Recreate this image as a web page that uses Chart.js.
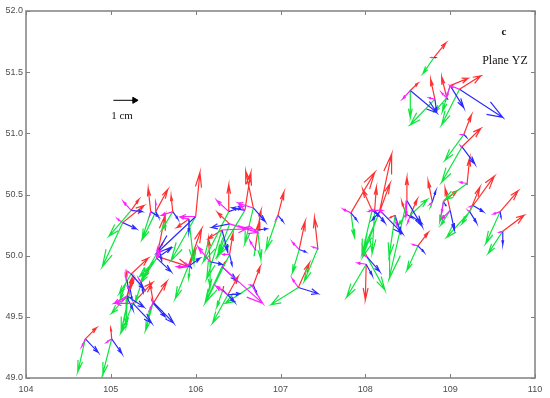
<!DOCTYPE html>
<html>
<head>
<meta charset="utf-8">
<title>Plane YZ</title>
<script src="https://cdn.jsdelivr.net/npm/chart.js@4"></script>
<style>
  html, body { margin: 0; padding: 0; background: #fff; }
  canvas { display: block; }
</style>
</head>
<body>
<canvas id="quiverChart" width="550" height="398"></canvas>
<script>
// axis ticks
const tickX = [104, 105, 106, 107, 108, 109, 110];
const tickY = [49, 49.5, 50, 50.5, 51, 51.5, 52];

// arrow start of every site
const originX = [104.70,105.01,105.24,105.14,105.47,105.53,105.73,106.00,105.92,105.54,105.56,105.91,105.93,106.39,106.68,106.58,106.97,106.73,106.70,106.40,106.31,106.40,106.17,106.31,106.38,106.68,106.32,107.22,107.44,107.21,105.24,105.19,105.19,105.26,105.19,105.50,105.50,105.57,105.36,105.23,107.83,108.08,108.17,108.11,108.17,108.49,108.35,108.48,108.53,108.79,108.62,108.02,108.01,108.92,109.00,109.20,109.23,109.27,109.59,109.62,109.16,109.14,108.81,108.53,108.82,108.96,109.00,109.11];
const originY = [49.32,49.32,50.37,50.27,50.36,50.36,50.36,50.32,50.30,49.98,49.99,49.91,49.92,50.36,50.39,50.37,50.33,50.21,50.05,50.26,50.21,50.01,49.95,49.91,49.68,49.76,49.72,50.05,50.06,49.74,49.85,49.80,49.67,49.61,49.66,49.62,49.61,50.05,49.78,49.72,50.35,50.37,50.37,50.37,50.36,50.45,50.33,50.34,50.33,50.44,50.08,49.99,49.93,50.44,50.37,50.59,50.36,50.41,50.36,50.20,50.99,50.89,51.62,51.35,51.28,51.29,51.39,51.36];

// arrow tips, one pair of arrays for each colour
const redX = [104.83,105.00,105.33,105.39,105.44,105.67,105.71,106.05,105.78,105.64,105.92,106.07,106.00,106.39,106.59,106.65,107.04,106.77,106.75,106.26,106.15,106.44,106.15,106.35,106.50,106.76,106.33,107.29,107.40,107.34,105.44,105.18,105.25,105.49,105.26,105.46,105.66,105.61,105.45,105.27,108.11,107.97,108.31,108.13,108.29,108.49,108.29,108.43,108.61,108.74,108.74,107.97,108.00,109.08,108.94,109.23,109.35,109.52,109.80,109.87,109.25,109.36,108.95,108.62,108.77,108.90,109.21,109.36];
const redY = [49.41,49.41,50.46,50.41,50.55,50.54,50.49,50.68,50.23,50.33,49.91,50.22,50.05,50.58,50.69,50.68,50.52,50.37,50.28,50.35,50.14,50.18,50.14,49.95,49.83,49.91,49.75,50.28,50.31,49.94,49.98,49.87,49.82,49.78,49.81,49.78,49.79,50.10,49.90,49.80,50.68,50.54,50.83,50.56,50.59,50.64,50.31,50.44,50.46,50.61,50.19,50.07,49.64,50.53,50.55,50.80,50.56,50.65,50.53,50.33,51.15,51.04,51.74,51.41,51.44,51.46,51.45,51.47];
const greenX = [104.61,104.90,104.98,104.90,105.37,105.38,105.60,105.71,105.98,105.35,105.34,105.76,105.92,106.09,106.58,106.25,106.83,106.77,106.69,106.26,106.13,106.12,106.17,106.11,106.20,106.35,106.25,107.14,107.28,106.89,105.10,105.11,105.01,105.13,105.18,105.41,105.44,105.36,105.29,105.12,107.87,107.96,107.97,108.08,107.99,108.28,108.28,108.39,108.73,108.77,108.49,108.23,107.78,108.88,108.89,108.94,108.96,109.14,109.42,109.45,108.94,108.90,108.68,108.53,108.53,108.82,108.91,108.90];
const greenY = [49.05,49.02,50.16,49.91,50.14,50.14,50.21,49.96,49.94,49.78,49.83,49.65,49.82,49.95,50.10,49.99,50.05,49.97,50.00,49.99,49.81,49.62,49.74,49.61,49.45,49.61,49.58,49.86,49.79,49.60,49.69,49.64,49.53,49.38,49.42,49.39,49.51,49.80,49.62,49.38,50.15,50.01,49.99,50.02,50.07,49.81,49.99,50.25,50.46,50.40,49.88,49.72,49.66,50.28,50.25,50.46,50.15,50.26,50.10,50.02,50.78,50.60,51.49,51.13,51.07,51.18,51.18,51.07];
const blueX = [104.85,105.13,105.37,105.30,105.56,105.56,105.79,105.54,105.92,105.71,105.71,106.05,105.95,106.55,106.82,106.43,107.03,106.84,106.71,106.19,106.38,106.43,106.31,106.48,106.52,106.72,106.46,107.30,107.44,107.44,105.39,105.21,105.39,105.48,105.26,105.74,105.64,105.60,105.38,105.25,107.90,108.17,108.44,108.23,108.08,108.67,108.42,108.55,108.66,108.83,108.69,108.17,108.08,108.95,109.05,109.20,109.31,109.39,109.60,109.62,109.19,109.29,108.83,108.84,108.84,108.97,109.16,109.62];
const blueY = [49.21,49.20,50.36,50.22,50.32,50.32,50.30,50.02,50.19,49.87,50.06,49.98,49.90,50.40,50.28,50.39,50.28,50.22,50.05,50.23,50.03,49.92,49.93,49.80,49.69,49.69,49.62,50.03,50.05,49.69,49.73,49.72,49.58,49.45,49.56,49.45,49.50,49.96,49.70,49.64,50.29,50.32,50.18,50.27,50.29,50.24,50.18,50.31,50.27,50.53,50.03,49.87,49.84,50.41,50.21,50.58,50.27,50.36,50.31,50.09,50.97,50.75,51.62,51.17,51.18,51.28,51.21,51.13];
const magentaX = [104.66,104.95,105.15,105.08,105.46,105.53,105.60,105.83,105.83,105.55,105.58,105.78,105.87,106.25,106.50,106.52,106.95,106.58,106.64,106.73,106.60,106.32,106.03,106.79,106.24,106.64,106.26,107.14,107.38,107.14,105.20,105.17,105.04,105.06,105.13,105.46,105.48,105.55,105.33,105.20,107.74,108.04,108.06,108.20,108.20,108.48,108.37,108.47,108.50,108.76,108.56,107.99,107.91,108.90,108.90,109.12,109.21,109.23,109.51,109.58,109.13,109.12,108.78,108.44,108.75,108.90,108.96,109.00];
const magentaY = [49.26,49.29,50.44,50.30,50.33,50.44,50.33,50.32,50.31,50.06,50.03,49.91,49.94,50.45,50.43,50.41,50.30,50.23,50.12,50.19,50.22,50.01,50.07,49.61,49.75,49.76,49.74,50.11,50.07,49.81,49.87,49.84,49.61,49.61,49.63,49.56,49.64,50.00,49.81,49.74,50.38,50.36,50.37,50.37,50.35,50.32,50.25,50.32,50.27,50.42,50.09,50.00,49.94,50.35,50.30,50.60,50.37,50.40,50.34,50.19,50.99,50.90,51.62,51.28,51.29,51.33,51.30,51.39];

// scale arrow in the upper left
const keyX = [105.03, 105.28];
const keyY = [51.27, 51.27];

// same head as matlab quiver, worked out in data units
const headAlpha = 0.33;
const headBeta = 0.3;

function arrowPoints(tipX, tipY) {
    var pts = [];
    for (var i = 0; i < originX.length; i++) {
        var u = tipX[i] - originX[i];
        var v = tipY[i] - originY[i];
        pts.push({ x: originX[i], y: originY[i] });
        pts.push({ x: tipX[i], y: tipY[i] });
        pts.push({ x: tipX[i] - headAlpha * (u + headBeta * v), y: tipY[i] - headAlpha * (v - headBeta * u) });
        pts.push({ x: tipX[i], y: tipY[i] });
        pts.push({ x: tipX[i] - headAlpha * (u - headBeta * v), y: tipY[i] - headAlpha * (v + headBeta * u) });
        pts.push({ x: NaN, y: NaN }); // gap before next arrow
    }
    return pts;
}

function arrowSet(tipX, tipY, color) {
    return {
        data: arrowPoints(tipX, tipY),
        showLine: true,
        spanGaps: false,
        borderColor: color,
        borderWidth: 1.2,
        pointRadius: 0,
        tension: 0
    };
}

// frame with inward ticks, and the labels on the chart
const framePlugin = {
    id: 'frame',
    afterDatasetsDraw: function(chart) {
        const c = chart.ctx;
        const a = chart.chartArea;
        const sx = chart.scales.x;
        const sy = chart.scales.y;
        c.save();
        c.strokeStyle = '#808080';
        c.lineWidth = 1.5;
        c.strokeRect(a.left, a.top, a.right - a.left, a.bottom - a.top);
        c.lineWidth = 1;
        c.beginPath();
        tickX.forEach(function(t) {
            var p = Math.round(sx.getPixelForValue(t)) + 0.5;
            c.moveTo(p, a.bottom); c.lineTo(p, a.bottom - 4);
            c.moveTo(p, a.top); c.lineTo(p, a.top + 4);
        });
        tickY.forEach(function(t) {
            var p = Math.round(sy.getPixelForValue(t)) + 0.5;
            c.moveTo(a.left, p); c.lineTo(a.left + 4, p);
            c.moveTo(a.right, p); c.lineTo(a.right - 4, p);
        });
        c.stroke();

        c.fillStyle = '#111';
        c.textAlign = 'center';
        c.textBaseline = 'middle';
        c.font = 'bold 11px "Liberation Serif"';
        c.fillText('c', 504, 32);
        c.font = '12px "Liberation Serif"';
        c.fillText('Plane YZ', 505, 61);
        c.font = '11px "Liberation Serif"';
        c.fillText('1 cm', 122, 116);
        c.restore();
    }
};

new Chart(document.getElementById('quiverChart'), {
    type: 'scatter',
    data: {
        datasets: [
            {
                data: [{ x: keyX[0], y: keyY[0] }, { x: keyX[1], y: keyY[1] }],
                showLine: true,
                borderColor: '#000',
                borderWidth: 1,
                pointStyle: 'triangle',
                pointRotation: 90,
                pointRadius: [0, 3.5],
                pointBackgroundColor: '#000',
                pointBorderColor: '#000'
            },
            arrowSet(magentaX, magentaY, '#ff20ff'),
            arrowSet(blueX, blueY, '#2a2aff'),
            arrowSet(greenX, greenY, '#0ce63c'),
            arrowSet(redX, redY, '#ff3030')
        ]
    },
    plugins: [framePlugin],
    options: {
        responsive: false,
        animation: false,
        layout: { padding: { top: 11, right: 15, left: 0, bottom: 0 } },
        plugins: { legend: { display: false }, tooltip: { enabled: false } },
        scales: {
            x: {
                type: 'linear',
                min: tickX[0],
                max: tickX[tickX.length - 1],
                afterFit: function(s) { s.height = 20; },
                afterBuildTicks: function(s) { s.ticks = tickX.map(function(v) { return { value: v }; }); },
                grid: { display: false, drawTicks: false },
                border: { display: false },
                ticks: { color: '#4d4d4d', padding: 6, maxRotation: 0, font: { family: 'Liberation Sans', size: 9 } }
            },
            y: {
                type: 'linear',
                min: tickY[0],
                max: tickY[tickY.length - 1],
                afterFit: function(s) { s.width = 26; },
                afterBuildTicks: function(s) { s.ticks = tickY.map(function(v) { return { value: v }; }); },
                grid: { display: false, drawTicks: false },
                border: { display: false },
                ticks: { color: '#4d4d4d', padding: 3, font: { family: 'Liberation Sans', size: 9 } }
            }
        }
    }
});
</script>
</body>
</html>
